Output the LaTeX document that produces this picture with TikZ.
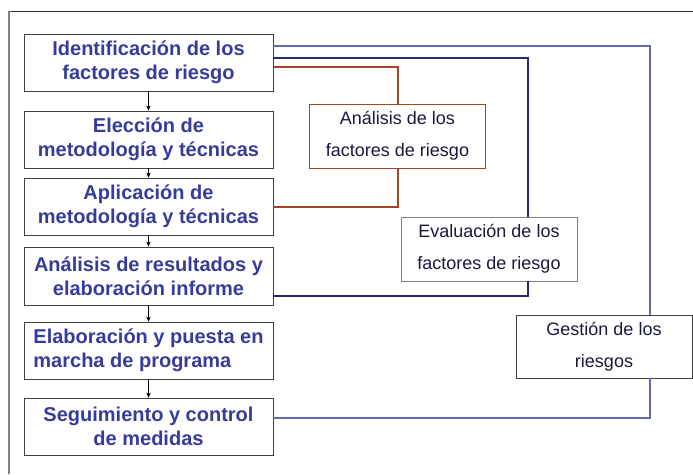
\documentclass[tikz,border=0pt]{standalone}
\usepackage{fontspec}
\setmainfont{Liberation Sans}
\usetikzlibrary{arrows.meta}
\definecolor{boxblue}{RGB}{55,60,155}
\definecolor{navyline}{RGB}{40,40,120}
\definecolor{lightline}{RGB}{100,105,175}
\definecolor{brownline}{RGB}{165,70,35}
\definecolor{darktext}{RGB}{25,25,60}
\definecolor{borderg}{RGB}{64,64,64}
\tikzset{
  stepbox/.style={draw=borderg, line width=0.8pt, fill=white, minimum width=249pt, minimum height=57pt, inner sep=0pt, align=center, text=boxblue, font=\fontsize{20}{24}\selectfont\bfseries},
  sidebox/.style={draw=borderg, line width=0.8pt, fill=white, minimum width=176pt, minimum height=64pt, inner sep=0pt, align=center, text=darktext, font=\fontsize{18}{32}\selectfont},
  flowarrow/.style={line width=0.6pt, -{Stealth[length=5pt,width=4.5pt]}},
  conn/.style={line width=2pt}
}
\begin{document}
\begin{tikzpicture}[x=1pt,y=-1pt]
\useasboundingbox (0,0) rectangle (693,474);
\fill[white] (0,0) rectangle (693,474);
\coordinate (ftl) at (9,11);
\coordinate (ftr) at (693,11);
\coordinate (fbl) at (9,474);
\draw[line width=0.8pt, color={rgb,255:red,50;green,50;blue,50}] (ftl) -- (ftr);
\draw[line width=1.4pt, color={rgb,255:red,130;green,130;blue,130}] (ftl) -- (fbl);

\node[stepbox] (b1) at (148.5,62.5) {Identificación de los\\factores de riesgo};
\node[stepbox] (b2) at (148.5,139.5) {Elección de\\metodología y técnicas};
\node[stepbox] (b3) at (148.5,206.5) {Aplicación de\\metodología y técnicas};
\node[stepbox, minimum height=58pt] (b4) at (148.5,276) {Análisis de resultados y\\elaboración informe};
\node[stepbox, align=left] (b5) at (148.5,350.5) {Elaboración y puesta en\\marcha de programa};
\node[stepbox] (b6) at (148.5,426.5) {Seguimiento y control\\de medidas};

\node[sidebox, draw=brownline] (a) at (397.5,136) {Análisis de los\\factores de riesgo};
\node[sidebox, draw=gray] (e) at (489,249) {Evaluación de los\\factores de riesgo};
\node[sidebox, minimum height=63pt] (g) at (604,346.5) {Gestión de los\\riesgos};

\draw[flowarrow] (b1.south) -- (b2.north);
\draw[flowarrow] (b2.south) -- (b3.north);
\draw[flowarrow] (b3.south) -- (b4.north);
\draw[flowarrow] (b4.south) -- (b5.north);
\draw[flowarrow] (b5.south) -- (b6.north);

\draw[conn, brownline] ([yshift=-4.5pt]b1.east) -| (a.north);
\draw[conn, brownline] (a.south) |- (b3.east);
\draw[conn, navyline] ([yshift=4.5pt]b1.east) -| ([xshift=39pt]e.north);
\draw[conn, navyline] ([xshift=39pt]e.south) |- ([yshift=-20pt]b4.east);
\draw[conn, lightline] ([yshift=16.5pt]b1.east) -| ([xshift=46pt]g.north);
\draw[conn, lightline] ([xshift=46pt]g.south) |- ([yshift=8.5pt]b6.east);
\end{tikzpicture}
\end{document}
